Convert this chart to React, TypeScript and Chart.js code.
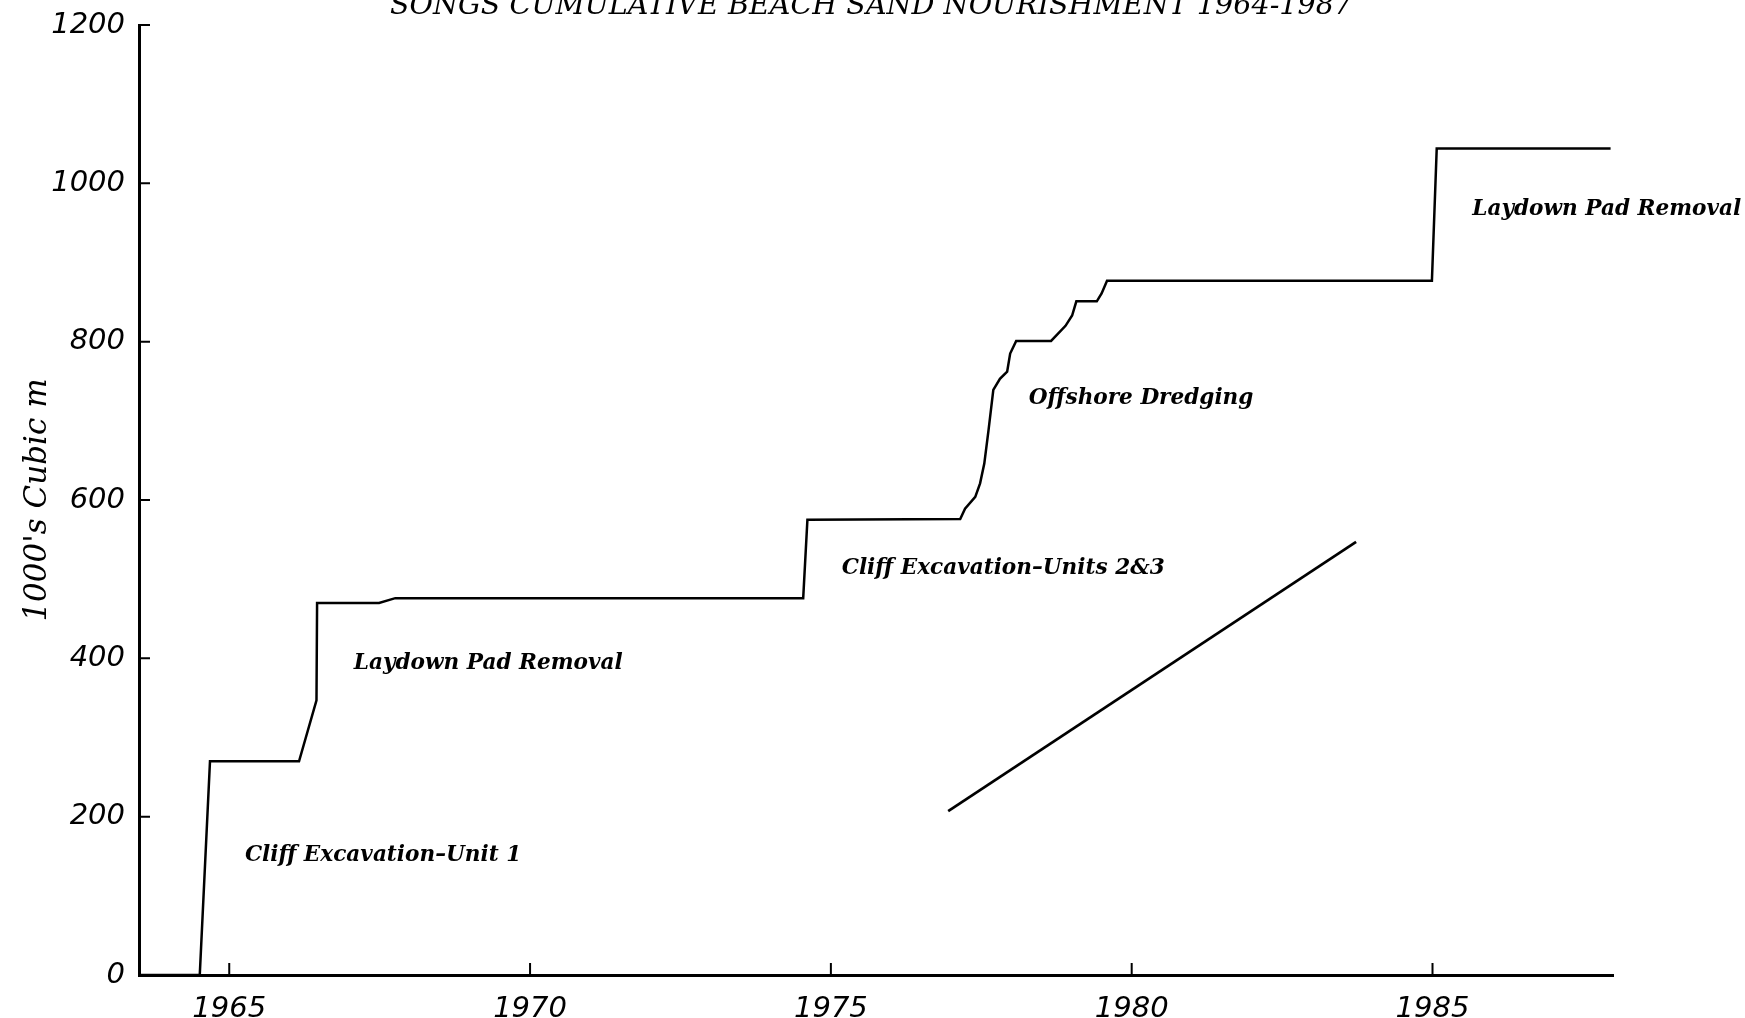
import React, { useEffect, useRef } from "react";
import { Chart, registerables } from "chart.js";

Chart.register(...registerables);

const TITLE = "SONGS CUMULATIVE BEACH SAND NOURISHMENT 1964-1987";
const Y_TITLE = "1000's Cubic m";

const X_TICKS = [1965, 1970, 1975, 1980, 1985];
const Y_TICKS = [0, 200, 400, 600, 800, 1000, 1200];

// cumulative nourishment (1000's m^3)
const CUMULATIVE_YEARS = [
  1963.5, 1964.51, 1964.68, 1966.16, 1966.45, 1966.46, 1967.49, 1967.76,
  1974.54, 1974.61, 1977.15, 1977.23, 1977.4, 1977.48, 1977.55, 1977.62,
  1977.7, 1977.81, 1977.93, 1977.98, 1978.08, 1978.66, 1978.9, 1979.01,
  1979.08, 1979.42, 1979.5, 1979.59, 1984.99, 1985.07, 1987.96,
];
const CUMULATIVE_VALUES = [
  0, 0, 270, 270, 347, 470, 470, 476,
  476, 575, 576, 589, 604, 621, 646, 688,
  739, 753, 762, 785, 801, 801, 820, 833,
  851, 851, 861, 877, 877, 1044, 1044,
];

// straight trend line
const TREND_YEARS = [1976.95, 1983.73];
const TREND_VALUES = [207, 547];

// annotations (anchored at left / middle)
const NOTE_TEXTS = [
  "Cliff Excavation–Unit 1",
  "Laydown Pad Removal",
  "Cliff Excavation–Units 2&3",
  "Offshore Dredging",
  "Laydown Pad Removal",
];
const NOTE_YEARS = [1965.26, 1967.07, 1975.18, 1978.29, 1985.66];
const NOTE_VALUES = [151, 393, 513, 728, 967];

export default function App() {
  const ref = useRef<HTMLCanvasElement>(null);

  useEffect(() => {
    document.body.style.margin = "0";
    document.body.style.overflow = "hidden";
    const canvas = ref.current;
    if (!canvas) return;

    const decorPlugin = {
      id: "decor",
      afterDraw(chart: any) {
        const { ctx, chartArea } = chart;
        const xs = chart.scales.x;
        const ys = chart.scales.y;
        ctx.save();
        // inward tick marks
        ctx.strokeStyle = "#000";
        ctx.lineWidth = 2;
        ctx.beginPath();
        X_TICKS.forEach((v) => {
          const px = xs.getPixelForValue(v);
          ctx.moveTo(px, chartArea.bottom);
          ctx.lineTo(px, chartArea.bottom - 12);
        });
        Y_TICKS.forEach((v) => {
          if (v === 0) return;
          const py = ys.getPixelForValue(v);
          ctx.moveTo(chartArea.left, py);
          ctx.lineTo(chartArea.left + 11, py);
        });
        ctx.stroke();
        // title (partly cut at the top edge)
        ctx.fillStyle = "#000";
        ctx.font = 'italic 28.6px "DejaVu Serif"';
        ctx.textAlign = "center";
        ctx.textBaseline = "alphabetic";
        ctx.fillText(TITLE, 871, 14);
        // annotations
        ctx.font = 'italic bold 21.6px "DejaVu Serif"';
        ctx.textAlign = "left";
        ctx.textBaseline = "middle";
        NOTE_TEXTS.forEach((t, i) => {
          ctx.fillText(t, xs.getPixelForValue(NOTE_YEARS[i]), ys.getPixelForValue(NOTE_VALUES[i]));
        });
        ctx.restore();
      },
    };

    const tickFont = { family: "DejaVu Sans", style: "italic" as const, size: 29 };

    const chart = new Chart(canvas, {
      type: "line",
      data: {
        datasets: [
          {
            label: "Cumulative",
            data: CUMULATIVE_YEARS.map((x, i) => ({ x, y: CUMULATIVE_VALUES[i] })),
            borderColor: "#000",
            borderWidth: 2.5,
            pointRadius: 0,
            fill: false,
            tension: 0,
          },
          {
            label: "Trend",
            data: TREND_YEARS.map((x, i) => ({ x, y: TREND_VALUES[i] })),
            borderColor: "#000",
            borderWidth: 2.7,
            pointRadius: 0,
            fill: false,
            tension: 0,
          },
        ],
      },
      options: {
        animation: false,
        responsive: false,
        layout: { padding: { left: 0, right: 132, top: 25, bottom: 0 } },
        plugins: {
          legend: { display: false },
          tooltip: { enabled: false },
          title: { display: false },
        },
        scales: {
          x: {
            type: "linear",
            min: 1963.5,
            max: 1988,
            afterBuildTicks: (s: any) => {
              s.ticks = X_TICKS.map((v) => ({ value: v }));
            },
            afterFit: (s: any) => {
              s.height = 43;
              s.paddingLeft = 0;
              s.paddingRight = 0;
            },
            grid: { display: false, drawTicks: false },
            border: { display: true, color: "#000", width: 3 },
            ticks: {
              color: "#000",
              font: tickFont,
              padding: 17,
              maxRotation: 0,
              autoSkip: false,
              callback: (v: any) => String(v),
            },
          },
          y: {
            type: "linear",
            min: 0,
            max: 1200,
            afterBuildTicks: (s: any) => {
              s.ticks = Y_TICKS.map((v) => ({ value: v }));
            },
            afterFit: (s: any) => {
              s.width = 139;
              s.paddingTop = 0;
              s.paddingBottom = 0;
            },
            grid: { display: false, drawTicks: false },
            border: { display: true, color: "#000", width: 3 },
            ticks: {
              color: "#000",
              font: tickFont,
              padding: 14,
              autoSkip: false,
              callback: (v: any) => String(v),
            },
            title: {
              display: true,
              text: Y_TITLE,
              color: "#000",
              font: { family: "DejaVu Serif", style: "italic", size: 31 },
              padding: { top: 19, bottom: 0 },
            },
          },
        },
      },
      plugins: [decorPlugin],
    });

    return () => chart.destroy();
  }, []);

  return (
    <div style={{ position: "absolute", left: 0, top: 0, width: 1745, height: 1018 }}>
      <canvas ref={ref} width={1745} height={1018} style={{ display: "block" }} />
    </div>
  );
}
